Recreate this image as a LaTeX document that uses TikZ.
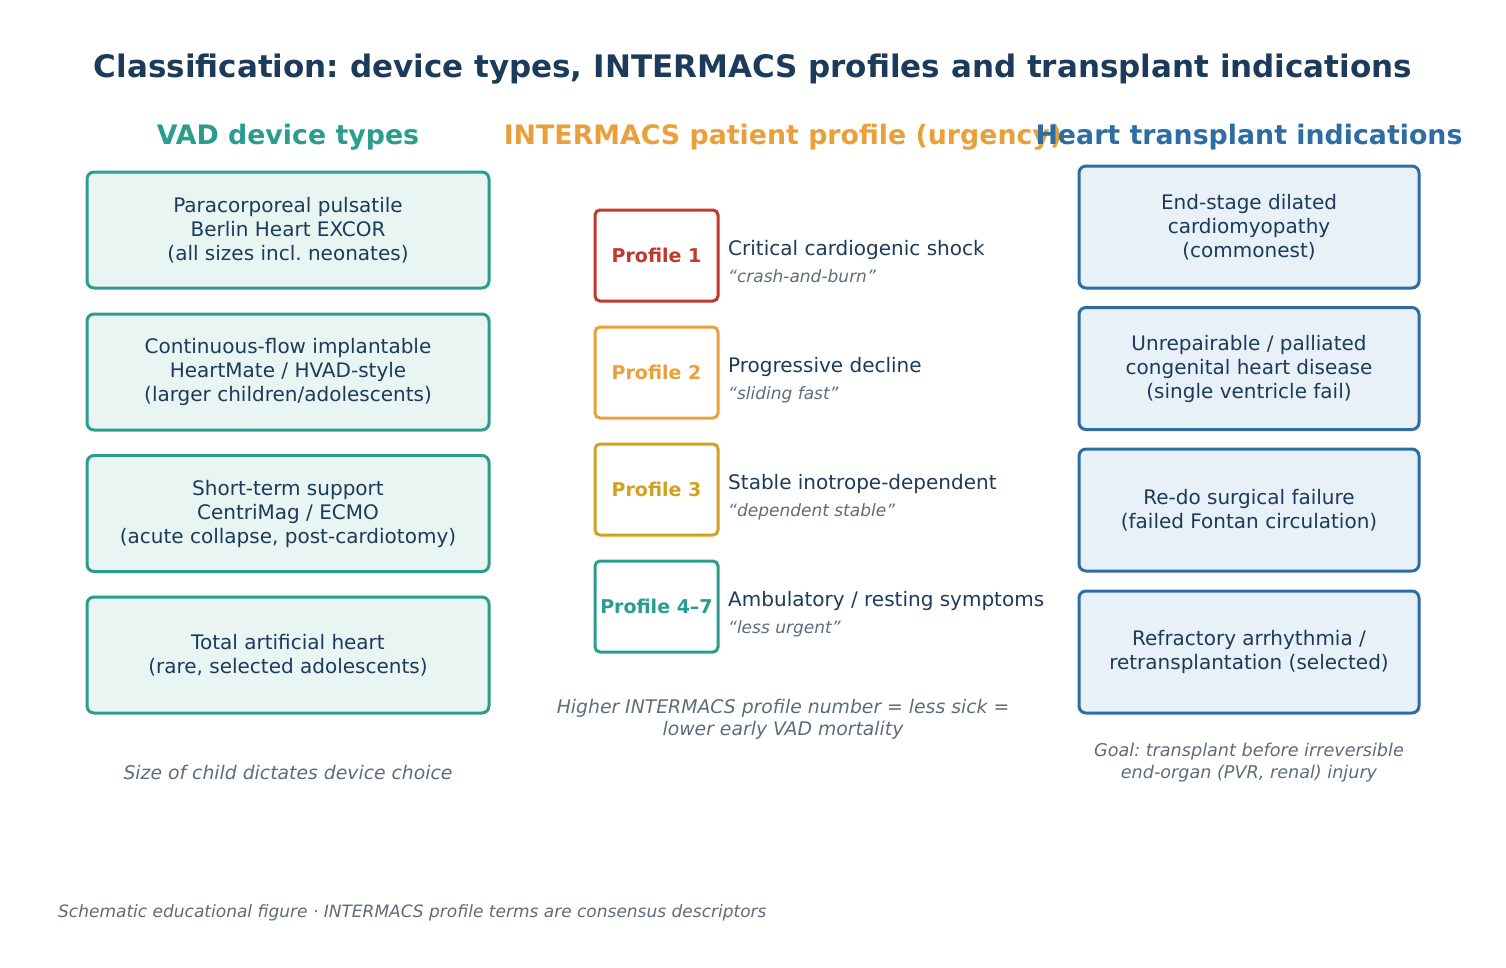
\documentclass[tikz,border=0pt]{standalone}
\usepackage{fontspec}
\setmainfont{DejaVu Sans}
\definecolor{navy}{HTML}{1C3A5A}
\definecolor{teal}{HTML}{2A9D8F}
\definecolor{tealfill}{HTML}{E9F5F2}
\definecolor{orng}{HTML}{E9A03B}
\definecolor{gold}{HTML}{D4A020}
\definecolor{redc}{HTML}{C0392B}
\definecolor{blu}{HTML}{2E6DA4}
\definecolor{blufill}{HTML}{E8F0F8}
\definecolor{greyt}{HTML}{5F6B7A}
\tikzset{
  vadbox/.style={draw=teal, fill=tealfill, line width=3pt, rounded corners=7pt, minimum width=402pt, minimum height=116pt, align=center, text=navy, font=\fontsize{20}{24}\selectfont},
  txbox/.style={draw=blu, fill=blufill, line width=3pt, rounded corners=7pt, minimum width=340pt, minimum height=122pt, align=center, text=navy, font=\fontsize{20}{24}\selectfont},
  profbox/.style={draw=#1, fill=white, line width=3pt, rounded corners=5pt, minimum width=123pt, minimum height=91pt, inner sep=0pt, text=#1, font=\bfseries\fontsize{19}{22}\selectfont},
  desc/.style={anchor=base west, inner sep=0pt, text=navy, font=\fontsize{20}{24}\selectfont},
  sub/.style={anchor=base west, inner sep=0pt, text=greyt, font=\itshape\fontsize{17}{20}\selectfont},
  hdr/.style={font=\bfseries\fontsize{26.8}{30}\selectfont, anchor=base},
  capt/.style={align=center, text=greyt, font=\itshape\fontsize{18.8}{22}\selectfont},
}
\begin{document}
\frenchspacing
\begin{tikzpicture}[x=1pt,y=-1pt]
\useasboundingbox (0,0) rectangle (1506,967);
\node[anchor=base, text=navy, font=\bfseries\fontsize{31}{36}\selectfont] (title) at (753,77) {Classification: device types, INTERMACS profiles and transplant indications};
\node[hdr, text=teal] (h1) at (288,144) {VAD device types};
\node[hdr, text=orng] (h2) at (783,144) {INTERMACS patient profile (urgency)};
\node[hdr, text=blu] (h3) at (1249,144) {Heart transplant indications};

\node[vadbox] (v1) at (288,230) {Paracorporeal pulsatile\\Berlin Heart EXCOR\\(all sizes incl. neonates)};
\node[vadbox] (v2) at (288,372) {Continuous-flow implantable\\HeartMate / HVAD-style\\(larger children/adolescents)};
\node[vadbox] (v3) at (288,513.5) {Short-term support\\CentriMag / ECMO\\(acute collapse, post-cardiotomy)};
\node[vadbox] (v4) at (288,655) {Total artificial heart\\(rare, selected adolescents)};
\node[capt] (vc) at (288,772) {Size of child dictates device choice};

\node[profbox=redc] (p1) at (656.5,255.5) {Profile 1};
\node[profbox=orng] (p2) at (656.5,372.5) {Profile 2};
\node[profbox=gold] (p3) at (656.5,489.5) {Profile 3};
\node[profbox=teal] (p4) at (656.5,606.5) {Profile 4--7};
\node[desc] (d1) at (728,255) {Critical cardiogenic shock};
\node[sub] (s1) at (728,282) {“crash-and-burn”};
\node[desc] (d2) at (728,372) {Progressive decline};
\node[sub] (s2) at (728,399) {“sliding fast”};
\node[desc] (d3) at (728,489) {Stable inotrope-dependent};
\node[sub] (s3) at (728,516) {“dependent stable”};
\node[desc] (d4) at (728,606) {Ambulatory / resting symptoms};
\node[sub] (s4) at (728,633) {“less urgent”};
\node[capt] (pc) at (783,719) {Higher INTERMACS profile number = less sick =\\lower early VAD mortality};

\node[txbox] (t1) at (1249,227) {End-stage dilated\\cardiomyopathy\\(commonest)};
\node[txbox] (t2) at (1249,368.5) {Unrepairable / palliated\\congenital heart disease\\(single ventricle fail)};
\node[txbox] (t3) at (1249,510) {Re-do surgical failure\\(failed Fontan circulation)};
\node[txbox] (t4) at (1249,652) {Refractory arrhythmia /\\retransplantation (selected)};
\node[capt, font=\itshape\fontsize{17.6}{22}\selectfont] (tc) at (1249,763) {Goal: transplant before irreversible\\end-organ (PVR, renal) injury};

\node[anchor=base west, inner sep=0pt, text=greyt, font=\itshape\fontsize{17}{20}\selectfont] (foot) at (58,917) {Schematic educational figure · INTERMACS profile terms are consensus descriptors};
\end{tikzpicture}
\end{document}
